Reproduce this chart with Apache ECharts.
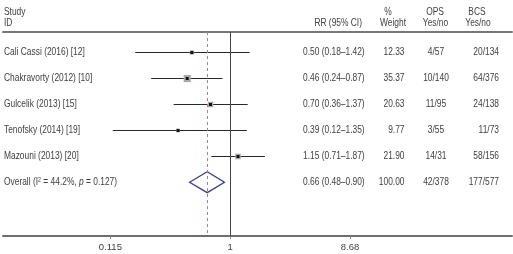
<!DOCTYPE html>
<html>
<head>
<meta charset="utf-8">
<script src="https://cdn.jsdelivr.net/npm/echarts@6/dist/echarts.min.js"></script>
<style>
  html, body { margin: 0; padding: 0; background: #fff; }
  #chart { width: 513px; height: 254px; }
</style>
</head>
<body>
<div id="chart"></div>
<script>
// forest plot data
const studies = ['Cali Cassi (2016) [12]', 'Chakravorty (2012) [10]', 'Gulcelik (2013) [15]', 'Tenofsky (2014) [19]', 'Mazouni (2013) [20]'];
const rr = [0.50, 0.46, 0.70, 0.39, 1.15];
const ciLow = [0.18, 0.24, 0.36, 0.12, 0.71];
const ciHigh = [1.42, 0.87, 1.37, 1.35, 1.87];
const weights = [12.33, 35.37, 20.63, 9.77, 21.90];
const ops = ['4/57', '10/140', '11/95', '3/55', '14/31'];
const bcs = ['20/134', '64/376', '24/138', '11/73', '58/156'];
const overallRR = [0.66, 0.48, 0.90]; // estimate, low, high
const overallWeight = 100.00;
const overallOps = '42/378';
const overallBcs = '177/577';
const overallLabel = 'Overall (I{sup|2} = 44.2%, {i|p} = 0.127)';
const tickLabels = [0.115, 1, 8.68];

const FONT = "'Liberation Sans', Arial, sans-serif";
const TXT = '#3e3e3e';
const FS = 10.5;
const NARROW = 0.8; // the source font is a condensed face
const log = Math.log10;

let chart = echarts.init(document.getElementById('chart'));

function fmt(v) { return v.toFixed(2); }
function rrText(i) { return fmt(rr[i]) + ' (' + fmt(ciLow[i]) + '–' + fmt(ciHigh[i]) + ')'; }

// rows of the table, overall is last
let rows = studies.map((s, i) => ({
  label: s, rr: rrText(i), w: fmt(weights[i]), ops: ops[i], bcs: bcs[i]
}));
rows.push({
  label: overallLabel,
  rr: fmt(overallRR[0]) + ' (' + fmt(overallRR[1]) + '–' + fmt(overallRR[2]) + ')',
  w: fmt(overallWeight), ops: overallOps, bcs: overallBcs
});

function txt(x, y, text, align, extra) {
  return {
    type: 'text',
    x: x, y: y,
    scaleX: NARROW,
    style: Object.assign({
      x: 0, y: 0, text: text,
      fill: TXT, fontSize: FS, fontFamily: FONT,
      align: align, textAlign: align,
      verticalAlign: 'middle', textVerticalAlign: 'middle'
    }, extra || {})
  };
}

let option = {
  animation: false,
  grid: { left: 3, right: 1, top: 32, bottom: 18 },
  xAxis: [
    {
      type: 'value',
      min: -1.781,
      max: 2.208,
      axisLine: { onZero: false, lineStyle: { color: '#6e6e6e', width: 2 } },
      axisTick: { customValues: tickLabels.map(log), length: 3, lineStyle: { color: '#888' } },
      axisLabel: {
        customValues: tickLabels.map(log),
        formatter: (v) => {
          let k = tickLabels.findIndex(t => Math.abs(log(t) - v) < 1e-6);
          return k >= 0 ? String(tickLabels[k]) : '';
        },
        color: TXT, fontSize: 9.5, fontFamily: FONT, margin: 6
      },
      splitLine: { show: false }
    },
    {
      type: 'value',
      position: 'top',
      min: -1.781,
      max: 2.208,
      axisLine: { onZero: false, lineStyle: { color: '#777', width: 2 } },
      axisTick: { show: false },
      axisLabel: { show: false },
      splitLine: { show: false }
    }
  ],
  yAxis: { type: 'value', inverse: true, min: -0.755, max: 7.06, show: false },
  graphic: [
    txt(4, 12, 'Study', 'left'),
    txt(4, 23, 'ID', 'left'),
    txt(362, 23, 'RR (95% CI)', 'right'),
    txt(388, 12, '%', 'center'),
    txt(393, 23, 'Weight', 'center'),
    txt(435, 12, 'OPS', 'center'),
    txt(435.5, 23, 'Yes/no', 'center'),
    txt(477, 12, 'BCS', 'center'),
    txt(478, 23, 'Yes/no', 'center')
  ],
  series: [
    {
      // reference lines
      type: 'scatter',
      data: [[log(overallRR[0]), 5]],
      symbolSize: 0,
      silent: true,
      markLine: {
        symbol: 'none',
        silent: true,
        label: { show: false },
        data: [
          { xAxis: 0, lineStyle: { color: '#444', type: 'solid', width: 1 } },
          { xAxis: log(overallRR[0]), lineStyle: { color: '#d4707a', type: [3, 3], width: 1 } }
        ]
      }
    },
    {
      // study CIs and weighted boxes
      type: 'custom',
      silent: true,
      data: studies.map((s, i) => [i, log(ciLow[i]), log(ciHigh[i]), log(rr[i]), weights[i]]),
      renderItem: function (params, api) {
        let row = api.value(0);
        let a = api.coord([api.value(1), row]);
        let b = api.coord([api.value(2), row]);
        let p = api.coord([api.value(3), row]);
        let y = Math.round(p[1]) + 0.5;
        let box = Math.sqrt(api.value(4)) * 1.2;
        return {
          type: 'group',
          children: [
            { type: 'line', shape: { x1: a[0], y1: y, x2: b[0], y2: y }, style: { stroke: '#2a2a2a', lineWidth: 1 } },
            { type: 'rect', shape: { x: p[0] - box / 2, y: y - box / 2, width: box, height: box }, style: { fill: '#a9a9a9' } },
            { type: 'rect', shape: { x: p[0] - 1.5, y: y - 1.5, width: 3, height: 3 }, style: { fill: '#111' } }
          ]
        };
      }
    },
    {
      // overall diamond
      type: 'custom',
      silent: true,
      data: [[5, log(overallRR[1]), log(overallRR[2]), log(overallRR[0])]],
      renderItem: function (params, api) {
        let row = api.value(0);
        let h = 0.4;
        let l = api.coord([api.value(1), row]);
        let r = api.coord([api.value(2), row]);
        let t = api.coord([api.value(3), row - h]);
        let btm = api.coord([api.value(3), row + h]);
        return {
          type: 'polygon',
          shape: { points: [l, t, r, btm] },
          style: { fill: '#fff', stroke: '#3b3f86', lineWidth: 1.3 }
        };
      }
    },
    {
      // table text
      type: 'custom',
      silent: true,
      clip: false,
      data: rows.map((r, i) => [i]),
      renderItem: function (params, api) {
        let i = params.dataIndex;
        let y = api.coord([0, api.value(0)])[1];
        let r = rows[i];
        return {
          type: 'group',
          children: [
            txt(4, y, r.label, 'left', {
              rich: {
                i: { fontStyle: 'italic', fontSize: FS, fontFamily: FONT, fill: TXT },
                sup: { fontSize: 6.5, fontFamily: FONT, fill: TXT, padding: [0, 0, 5, 0] }
              }
            }),
            txt(303, y, r.rr, 'left'),
            txt(404.5, y, r.w, 'right'),
            txt(436, y, r.ops, 'center'),
            txt(499, y, r.bcs, 'right')
          ]
        };
      }
    }
  ]
};

chart.setOption(option);
</script>
</body>
</html>
